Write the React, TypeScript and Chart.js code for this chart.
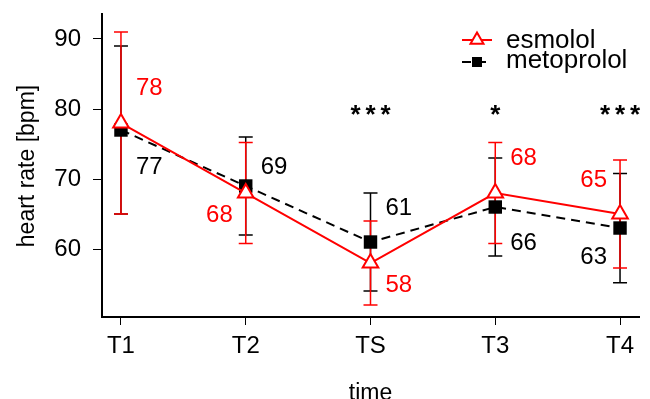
import React, { useEffect, useRef } from 'react';
import { Chart, registerables } from 'chart.js';

Chart.register(...registerables);

const categories = ['T1', 'T2', 'TS', 'T3', 'T4'];
const esmololMean = [78, 68, 58, 68, 65];
const esmololLow = [65, 60.8, 52, 60.8, 57.3];
const esmololHigh = [91, 75.2, 64, 75.2, 72.7];
const metoprololMean = [77, 69, 61, 66, 63];
const metoprololLow = [65, 62, 54, 59, 55.2];
const metoprololHigh = [89, 76, 68, 73, 70.8];
const significance = ['', '', '***', '*', '***'];
const yTicks = [60, 70, 80, 90];

// label placement (layout only)
const esmololLabelPos = [
  { side: 'right', dy: -35 },
  { side: 'left', dy: 22 },
  { side: 'right', dy: 22 },
  { side: 'right', dy: -35 },
  { side: 'left', dy: -34 },
];
const metoprololLabelPos = [
  { side: 'right', dy: 37 },
  { side: 'right', dy: -19 },
  { side: 'right', dy: -34 },
  { side: 'right', dy: 36 },
  { side: 'left', dy: 29 },
];

const RED = '#FF0000';
const FONT_FAMILY = '"Liberation Sans", Arial, Helvetica, sans-serif';
const TICK_FS = 24;
const VALUE_FS = 24;
const LEGEND_FS = 26;
const TITLE_FS = 23;

const overlayPlugin = {
  id: 'overlay',
  beforeDatasetsDraw(chart: any) {
    const ctx = chart.ctx;
    const xs = chart.scales.x;
    const ys = chart.scales.y;
    const bars = [
      { low: metoprololLow, high: metoprololHigh, color: '#000' },
      { low: esmololLow, high: esmololHigh, color: RED },
    ];
    ctx.save();
    bars.forEach((b) => {
      ctx.strokeStyle = b.color;
      ctx.lineWidth = 1.5;
      categories.forEach((_, i) => {
        const x = xs.getPixelForValue(i + 1);
        const y1 = ys.getPixelForValue(b.low[i]);
        const y2 = ys.getPixelForValue(b.high[i]);
        ctx.beginPath();
        ctx.moveTo(x, y1);
        ctx.lineTo(x, y2);
        ctx.moveTo(x - 7, y1);
        ctx.lineTo(x + 7, y1);
        ctx.moveTo(x - 7, y2);
        ctx.lineTo(x + 7, y2);
        ctx.stroke();
      });
    });
    ctx.restore();
  },
  afterDraw(chart: any) {
    const ctx = chart.ctx;
    const xs = chart.scales.x;
    const ys = chart.scales.y;
    const area = chart.chartArea;
    ctx.save();
    ctx.font = `${VALUE_FS}px ${FONT_FAMILY}`;
    ctx.textBaseline = 'middle';
    const drawLabels = (vals: number[], pos: any[], color: string) => {
      ctx.fillStyle = color;
      vals.forEach((v, i) => {
        const x = xs.getPixelForValue(i + 1);
        const y = ys.getPixelForValue(v) + pos[i].dy;
        if (pos[i].side === 'right') {
          ctx.textAlign = 'left';
          ctx.fillText(String(v), x + 15, y);
        } else {
          ctx.textAlign = 'right';
          ctx.fillText(String(v), x - 13, y);
        }
      });
    };
    drawLabels(esmololMean, esmololLabelPos, RED);
    drawLabels(metoprololMean, metoprololLabelPos, '#000');

    // significance stars
    ctx.fillStyle = '#000';
    ctx.textAlign = 'center';
    ctx.textBaseline = 'alphabetic';
    ctx.font = `bold 26px ${FONT_FAMILY}`;
    significance.forEach((s, i) => {
      if (!s) return;
      const cx = xs.getPixelForValue(i + 1);
      const n = s.length;
      for (let k = 0; k < n; k++) {
        const ox = (k - (n - 1) / 2) * 15;
        ctx.fillText('*', cx + ox, ys.getPixelForValue(78));
      }
    });

    // legend
    ctx.font = `${LEGEND_FS}px ${FONT_FAMILY}`;
    ctx.textBaseline = 'middle';
    ctx.textAlign = 'left';
    ctx.lineWidth = 2;
    ctx.strokeStyle = RED;
    ctx.setLineDash([]);
    ctx.beginPath();
    ctx.moveTo(462, 40);
    ctx.lineTo(492, 40);
    ctx.stroke();
    ctx.beginPath();
    const r = 7.5;
    ctx.moveTo(477, 40 - r);
    ctx.lineTo(477 + r * 0.866, 40 + r / 2);
    ctx.lineTo(477 - r * 0.866, 40 + r / 2);
    ctx.closePath();
    ctx.fillStyle = '#fff';
    ctx.fill();
    ctx.stroke();
    ctx.fillStyle = '#000';
    ctx.fillText('esmolol', 506, 41);
    ctx.strokeStyle = '#000';
    ctx.setLineDash([9, 6]);
    ctx.beginPath();
    ctx.moveTo(462, 62);
    ctx.lineTo(491, 62);
    ctx.stroke();
    ctx.setLineDash([]);
    ctx.fillRect(472, 57, 10, 10);
    ctx.fillText('metoprolol', 506, 61);

    // axis titles
    ctx.font = `${TITLE_FS}px ${FONT_FAMILY}`;
    ctx.textAlign = 'center';
    ctx.textBaseline = 'alphabetic';
    ctx.fillText('time', (area.left + area.right) / 2, 400);
    ctx.textBaseline = 'middle';
    ctx.translate(28, 166);
    ctx.rotate(-Math.PI / 2);
    ctx.fillText('heart rate [bpm]', 0, 0);
    ctx.restore();
  },
};

export default function App() {
  const ref = useRef<HTMLCanvasElement>(null);
  useEffect(() => {
    document.body.style.margin = '0';
    const canvas = ref.current!;
    const font = { family: FONT_FAMILY, size: TICK_FS };
    const chart = new Chart(canvas, {
      type: 'line',
      data: {
        datasets: [
          {
            label: 'esmolol',
            data: categories.map((_, i) => ({ x: i + 1, y: esmololMean[i] })),
            borderColor: RED,
            borderWidth: 2,
            pointStyle: 'triangle',
            pointRadius: 9,
            pointBackgroundColor: '#fff',
            pointBorderColor: RED,
            pointBorderWidth: 2,
            tension: 0,
            order: 0,
          },
          {
            label: 'metoprolol',
            data: categories.map((_, i) => ({ x: i + 1, y: metoprololMean[i] })),
            borderColor: '#000',
            borderWidth: 2,
            borderDash: [9, 6],
            pointStyle: 'rect',
            pointRadius: 9.5,
            pointBackgroundColor: '#000',
            pointBorderColor: '#000',
            pointBorderWidth: 0,
            tension: 0,
            order: 1,
          },
        ],
      },
      options: {
        responsive: false,
        animation: false,
        devicePixelRatio: 1,
        layout: { padding: { top: 14, right: 10, left: 0, bottom: 0 } },
        plugins: { legend: { display: false }, tooltip: { enabled: false } },
        scales: {
          x: {
            type: 'linear',
            min: 0.848,
            max: 5.152,
            afterBuildTicks: (s: any) => {
              s.ticks = categories.map((_, i) => ({ value: i + 1 }));
            },
            afterFit: (s: any) => {
              s.height = 82;
              s.paddingLeft = 0;
              s.paddingRight = 0;
            },
            ticks: {
              callback: (_v: any, i: number) => categories[i],
              font,
              color: '#000',
              padding: 7,
              maxRotation: 0,
              autoSkip: false,
            },
            grid: { display: true, drawOnChartArea: false, drawTicks: true, tickLength: 8, color: '#000', lineWidth: 1 },
            border: { display: true, color: '#000', width: 2 },
          },
          y: {
            type: 'linear',
            min: 50.29,
            max: 93.57,
            afterBuildTicks: (s: any) => {
              s.ticks = yTicks.map((v) => ({ value: v }));
            },
            afterFit: (s: any) => {
              s.width = 102;
              s.paddingTop = 0;
              s.paddingBottom = 0;
            },
            ticks: { font, color: '#000', padding: 12 },
            grid: { display: true, drawOnChartArea: false, drawTicks: true, tickLength: 9, color: '#000', lineWidth: 1 },
            border: { display: true, color: '#000', width: 2 },
          },
        },
      },
      plugins: [overlayPlugin],
    } as any);
    return () => chart.destroy();
  }, []);
  return (
    <div style={{ position: 'absolute', left: 0, top: 0, width: 650, height: 399, background: '#fff' }}>
      <canvas ref={ref} width={650} height={399} style={{ display: 'block' }} />
    </div>
  );
}
